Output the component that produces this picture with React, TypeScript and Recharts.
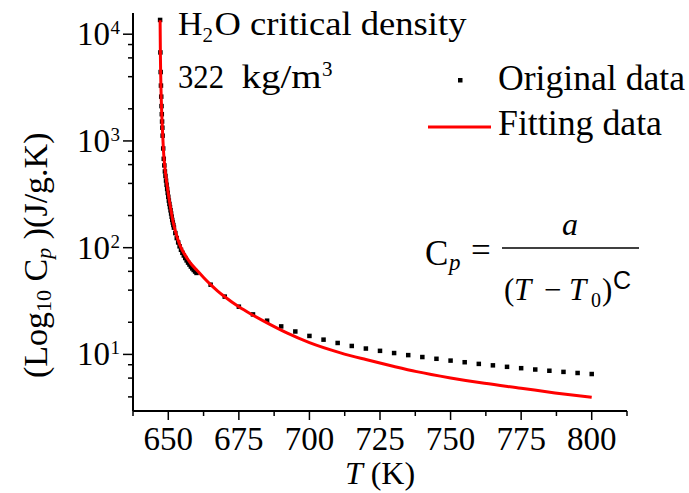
import { ComposedChart, Scatter, Line, XAxis, YAxis } from 'recharts'

const FONT = '"Liberation Serif", "Times New Roman", serif'

// original data: temperature (K) and Cp (J/g.K)
const origT = [
  647.1, 647.2, 647.3, 647.4, 647.5, 647.6, 647.7, 647.8, 647.9, 648.0,
  648.2, 648.4, 648.6, 648.8, 649.0, 649.2, 649.4, 649.6, 649.8, 650.0,
  650.2, 650.4, 650.6, 650.8, 651.0, 651.2, 651.4, 651.6, 651.8, 652.0,
  652.5, 653.0, 653.5, 654.0, 654.5, 655.0, 655.5, 656.0, 656.5, 657.0,
  657.5, 658.0, 658.5, 659.0, 659.5, 660.0,
  665, 670, 675, 680, 685, 690, 695, 700, 705, 710, 715, 720, 725, 730,
  735, 740, 745, 750, 755, 760, 765, 770, 775, 780, 785, 790, 795, 800,
]
const origCp = [
  13600, 6750, 4420, 3300, 2600, 2120, 1780, 1520, 1330, 1120,
  850, 680, 590, 518, 470, 425, 388, 355, 326, 300,
  276, 257, 240, 224, 209, 195, 182, 172, 163, 154,
  137, 123, 112, 103, 95.5, 89.5, 84.5, 80, 76, 72.5,
  69.5, 66.5, 64, 61.8, 59.8, 58,
  45, 34.8, 28, 23.7, 20.7, 18.3, 16.4, 14.9, 13.75, 12.8, 12.0, 11.35, 10.8, 10.3,
  9.85, 9.45, 9.1, 8.75, 8.45, 8.15, 7.9, 7.65, 7.43, 7.22, 7.03, 6.86, 6.7, 6.55,
]

// fitted curve Cp = a / (T - T0)^c
const fitT = [
  647.1, 647.2, 647.3, 647.4, 647.5, 647.7, 648.0, 648.4, 648.8, 649.3,
  649.8, 650.2, 650.8, 651.4, 652.3, 653.2, 654.3, 655.5, 656.7, 657.9,
  660, 662.5, 665, 667.5, 670, 675, 680, 686, 692, 700,
  711, 720, 730, 738, 750, 762, 775, 787, 800,
]
const fitCp = [
  13500, 6600, 4300, 3200, 2500, 1750, 1170, 735, 560, 435,
  350, 296, 238, 191, 150, 124, 103, 89, 79.5, 71.5,
  62, 52.5, 45, 39.2, 34.7, 27.9, 23.3, 19.1, 15.9, 12.9,
  10.35, 8.95, 7.71, 6.9, 6.02, 5.36, 4.82, 4.36, 3.96,
]

const xTicks = [637.5, 650, 662.5, 675, 687.5, 700, 712.5, 725, 737.5, 750, 762.5, 775, 787.5, 800, 812.5]
const xLabels = [650, 675, 700, 725, 750, 775, 800]
const yTicks = [4, 6, 8, 10, 20, 40, 60, 80, 100, 200, 400, 600, 800, 1000, 2000, 4000, 6000, 8000, 10000]
const yMajor = [10, 100, 1000, 10000]

const orig = origT.map((T, i) => ({ T, cp: origCp[i] }))
const fit = fitT.map((T, i) => ({ T, cp: fitCp[i] }))

function XTick(props: any) {
  const { x, y, payload } = props
  const major = xLabels.includes(payload.value)
  return (
    <g>
      <line x1={x} x2={x} y1={y} y2={y + (major ? 9 : 5)} stroke="#000" strokeWidth={1.5} />
      {major && (
        <text x={x} y={y + 39} textAnchor="middle" fontSize={33} style={{ fontFamily: FONT }} fill="#000">
          {payload.value}
        </text>
      )}
    </g>
  )
}

function YTick(props: any) {
  const { x, y, payload } = props
  const major = yMajor.includes(payload.value)
  const exp = Math.round(Math.log10(payload.value))
  return (
    <g>
      <line x1={x - (major ? 10 : 5)} x2={x} y1={y} y2={y} stroke="#000" strokeWidth={1.5} />
      {major && (
        <g style={{ fontFamily: FONT }} fill="#000">
          <text x={x - 23} y={y + 11} textAnchor="end" fontSize={33}>10</text>
          <text x={x - 22.5} y={y} fontSize={19}>{exp}</text>
        </g>
      )}
    </g>
  )
}

function Square(props: any) {
  const { cx, cy } = props
  return <rect x={cx - 2.25} y={cy - 2.25} width={4.5} height={4.5} fill="#000" />
}

const stretch = { lengthAdjust: 'spacingAndGlyphs' } as any

export default function App() {
  return (
    <div style={{ position: 'absolute', left: 0, top: 0, width: 689, height: 493, background: '#fff' }}>
      <ComposedChart width={689} height={493} margin={{ top: 13, right: 62, bottom: 0, left: 0 }}>
        <XAxis
          type="number"
          dataKey="T"
          domain={[637.5, 812.5]}
          ticks={xTicks}
          interval={0}
          tick={<XTick />}
          tickLine={false}
          tickSize={0}
          tickMargin={0}
          axisLine={{ stroke: '#000', strokeWidth: 2 }}
          height={82}
          allowDataOverflow
        />
        <YAxis
          type="number"
          scale="log"
          dataKey="cp"
          domain={[2.95, 15800]}
          ticks={yTicks}
          interval={0}
          tick={<YTick />}
          tickLine={false}
          tickSize={0}
          tickMargin={0}
          axisLine={{ stroke: '#000', strokeWidth: 2 }}
          width={133}
          allowDataOverflow
        />
        <Scatter data={orig} dataKey="cp" shape={<Square />} isAnimationActive={false} zIndex={500} />
        <Line data={fit} dataKey="cp" type="monotone" stroke="#ff0000" strokeWidth={3} dot={false} isAnimationActive={false} zIndex={700} />
      </ComposedChart>

      <svg width={689} height={493} style={{ position: 'absolute', left: 0, top: 0, pointerEvents: 'none', fontFamily: FONT }} fill="#000">
        {/* annotation */}
        <text x={178} y={35} fontSize={34}>H</text>
        <text x={202.5} y={42} fontSize={21}>2</text>
        <text x={214.5} y={35} fontSize={34} textLength={252} {...stretch}>O critical density</text>
        <text x={178} y={88} fontSize={34} textLength={46} {...stretch}>322</text>
        <text x={241.5} y={88} fontSize={34} textLength={80} {...stretch}>kg/m</text>
        <text x={322} y={76} fontSize={21}>3</text>

        {/* legend */}
        <rect x={458} y={78} width={4.5} height={4.5} fill="#000" />
        <text x={498} y={90} fontSize={35} textLength={187} {...stretch}>Original data</text>
        <line x1={428} x2={491} y1={127} y2={127} stroke="#ff0000" strokeWidth={3} />
        <text x={498} y={135} fontSize={35} textLength={164} {...stretch}>Fitting data</text>

        {/* formula */}
        <text x={425} y={265} fontSize={35}>C</text>
        <text x={449} y={270} fontSize={23} fontStyle="italic">p</text>
        <text x={471} y={262} fontSize={35}>=</text>
        <line x1={502} x2={639} y1={248} y2={248} stroke="#000" strokeWidth={1.5} />
        <text x={570} y={235} fontSize={32} fontStyle="italic" textAnchor="middle">a</text>
        <text x={504} y={300} fontSize={31}>(</text>
        <text x={514} y={300} fontSize={31} fontStyle="italic">T</text>
        <text x={544} y={300} fontSize={31}>−</text>
        <text x={569} y={300} fontSize={31} fontStyle="italic">T</text>
        <text x={591} y={307} fontSize={20}>0</text>
        <text x={602} y={300} fontSize={31}>)</text>
        <text x={613} y={289} fontSize={25} style={{ fontFamily: '"Liberation Sans", sans-serif' }}>C</text>

        {/* axis titles */}
        <text x={380} y={484} textAnchor="middle" fontSize={32}>
          <tspan fontStyle="italic">T</tspan> (K)
        </text>
        <text x={47} y={378} transform="rotate(-90, 47, 378)" fontSize={34}>
          (Log<tspan fontSize={22} dy={4}>10</tspan><tspan dy={-4}> C</tspan>
          <tspan fontSize={22} dy={4} fontStyle="italic">p</tspan><tspan dy={-4}> )(J/g.K)</tspan>
        </text>
      </svg>
    </div>
  )
}
